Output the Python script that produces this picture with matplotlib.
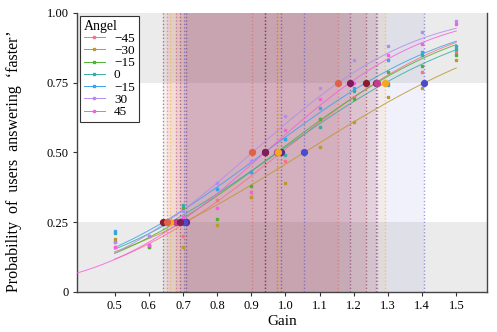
import math
import numpy as np
import matplotlib
matplotlib.use("Agg")
import matplotlib.pyplot as plt
from matplotlib.lines import Line2D

plt.rcParams['font.family'] = ['Liberation Serif', 'DejaVu Serif']

# ---------------- data ----------------
gains = [0.5, 0.6, 0.7, 0.8, 0.9, 1.0, 1.1, 1.2, 1.3, 1.4, 1.5]
angle_labels = ["\u221245", "\u221230", "\u221215", "0", "\u221215", "30", "45"]
curve_colors = ['#f77189', '#bb9832', '#50b131', '#36ada4', '#3ba3ec', '#b48cf0', '#f561dd']

p_m45 = [0.16, 0.17, 0.20, 0.33, 0.34, 0.47, 0.62, 0.70, 0.75, 0.79, 0.86]
p_m30 = [0.19, 0.16, 0.16, 0.24, 0.34, 0.39, 0.52, 0.61, 0.70, 0.73, 0.83]
p_m15 = [0.18, 0.16, 0.30, 0.26, 0.38, 0.55, 0.62, 0.69, 0.79, 0.81, 0.85]
p_0 = [0.21, 0.17, 0.31, 0.37, 0.43, 0.49, 0.59, 0.72, 0.74, 0.85, 0.87]
p_15 = [0.22, 0.20, 0.26, 0.37, 0.43, 0.55, 0.66, 0.73, 0.83, 0.86, 0.88]
p_30 = [0.18, 0.20, 0.29, 0.39, 0.47, 0.63, 0.73, 0.83, 0.88, 0.93, 0.97]
p_45 = [0.16, 0.17, 0.27, 0.30, 0.36, 0.58, 0.69, 0.75, 0.85, 0.89, 0.96]
series = [p_m45, p_m30, p_m15, p_0, p_15, p_30, p_45]

# fitted cumulative-normal parameters (mean, sd) per angle
fit_mu = [0.987, 1.055, 0.974, 0.978, 0.939, 0.903, 0.940]
fit_sd = [0.410, 0.522, 0.435, 0.467, 0.440, 0.373, 0.369]
curve_start = [0.5, 0.5, 0.5, 0.5, 0.5, 0.5, 0.35]

# thresholds read at 0.25 / 0.5 / 0.75
thr25 = [0.710, 0.703, 0.681, 0.663, 0.642, 0.652, 0.691]
thr50 = [0.987, 1.055, 0.974, 0.978, 0.939, 0.903, 0.940]
thr75 = [1.264, 1.406, 1.267, 1.292, 1.236, 1.155, 1.189]
thr_colors = ['#5a2a88', '#4b4bd0', '#c2408a', '#f5a623', '#8c1c30', '#e0604a', '#7d1d5a']

levels = [0.25, 0.5, 0.75]
yticks = [0, 0.25, 0.5, 0.75, 1.0]
ytick_labels = ["0", "0.25", "0.50", "0.75", "1.00"]
xticks = [0.5, 0.6, 0.7, 0.8, 0.9, 1.0, 1.1, 1.2, 1.3, 1.4, 1.5]
xtick_labels = ["0.5", "0.6", "0.7", "0.8", "0.9", "1.0", "1.1", "1.2", "1.3", "1.4", "1.5"]


def norm_cdf(x, mu, sd):
    return np.array([0.5 * (1 + math.erf((v - mu) / (sd * math.sqrt(2)))) for v in x])


fig = plt.figure(figsize=(4.97, 3.32), dpi=100)
ax = fig.add_axes([0.155, 0.1205, 0.825, 0.8405])

ax.axhspan(0, 0.25, color='#ebebeb', zorder=0, lw=0)
ax.axhspan(0.75, 1.0, color='#ebebeb', zorder=0, lw=0)

for i in range(len(thr25)):
    ax.axvspan(thr25[i], thr75[i], color=thr_colors[i], alpha=0.075, lw=0, zorder=1)
    for t in (thr25[i], thr50[i], thr75[i]):
        ax.axvline(t, color=thr_colors[i], ls=(0, (1, 1.5)), lw=1.0, alpha=0.55, zorder=2)

for i, ys in enumerate(series):
    xs = np.linspace(curve_start[i], 1.5, 200)
    ax.plot(xs, norm_cdf(xs, fit_mu[i], fit_sd[i]), color=curve_colors[i], lw=0.7, alpha=0.85, zorder=3)
    ax.plot(gains, ys, ls='none', marker='s', ms=1.6, color=curve_colors[i], zorder=4)

for i in range(len(thr25)):
    ax.plot([thr25[i], thr50[i], thr75[i]], levels, ls='none', marker='o', ms=4.2,
            color=thr_colors[i], zorder=5)

ax.set_xlim(0.39, 1.59)
ax.set_ylim(0, 1)
ax.set_xticks(xticks)
ax.set_xticklabels(xtick_labels)
ax.set_yticks(yticks)
ax.set_yticklabels(ytick_labels)
ax.tick_params(labelsize=9, length=3, color='#333333', pad=3)
ax.spines['top'].set_visible(False)
for s in ('left', 'bottom', 'right'):
    ax.spines[s].set_color('#444444')
    ax.spines[s].set_linewidth(1.0)

ax.set_xlabel("Gain", fontsize=11, labelpad=2)
ax.set_ylabel("Probability  of  users  answering  \u2018faster\u2019", fontsize=11.5)
ax.yaxis.set_label_coords(-0.135, 0.47)

handles = [Line2D([0], [0], color=curve_colors[i], lw=0.7, marker='s', ms=1.6) for i in range(7)]
leg = ax.legend(handles, angle_labels, title="Angel", loc='upper left', fontsize=9.5,
                title_fontsize=10, fancybox=False, framealpha=1, edgecolor='#333333',
                borderaxespad=0.2, handlelength=1.6, labelspacing=0.0, borderpad=0.3,
                handletextpad=0.7)
leg.get_frame().set_linewidth(0.8)
leg._legend_box.align = "left"
leg.set_zorder(10)

fig.savefig("out.png", dpi=100)
